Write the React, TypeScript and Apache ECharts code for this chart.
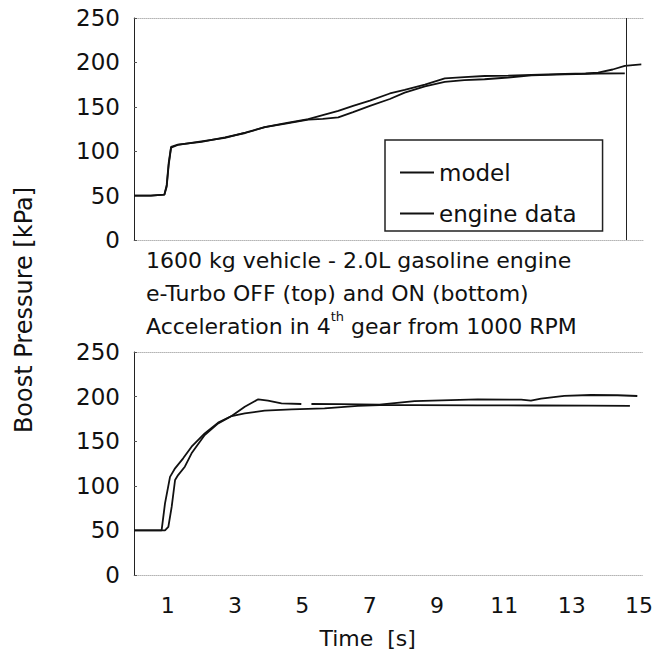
import React, { useEffect, useRef } from "react";
import * as echarts from "echarts";

// ---------- data ----------
// Top panel: e-Turbo OFF
const topModelTime = [0, 0.5, 0.9, 0.97, 1.03, 1.1, 1.3, 2.0, 2.7, 3.3, 3.88, 4.5, 5.17, 5.6, 6.06, 6.5, 7.0, 7.59, 8.03, 8.63, 9.22, 9.8, 10.4, 11.1, 11.79, 12.78, 13.77, 14.56];
const topModelValue = [50, 50, 51, 60, 85, 104, 107, 111, 115, 121, 127, 131, 135.5, 136.5, 138, 144, 151, 158.8, 166, 173, 178, 180, 181, 183, 185.5, 186.5, 187.5, 187.7];
const topEngineTime = [0, 0.5, 0.9, 0.97, 1.03, 1.1, 1.3, 2.0, 2.7, 3.3, 3.88, 4.5, 5.17, 5.6, 6.06, 6.5, 7.0, 7.59, 8.03, 8.63, 9.22, 9.8, 10.4, 11.1, 11.79, 12.78, 13.4, 13.77, 14.2, 14.56, 14.8, 15.05];
const topEngineValue = [50, 50, 51, 62, 87, 105, 107.5, 110.5, 115.5, 120.5, 127, 131.5, 136, 140.5, 145.3, 151, 157, 165, 169, 175, 182, 183.5, 184.7, 185, 186, 187, 187.5, 188.5, 192, 196, 197, 197.8];
const topBoundaryTime = 14.61;

// Bottom panel: e-Turbo ON
const bottomModelTime = [0, 0.5, 0.82, 0.92, 1.07, 1.22, 1.46, 1.71, 2.1, 2.5, 2.9, 3.29, 3.88, 4.68, 5.66, 6.65, 7.29, 8.33, 10.2, 12.0, 13.5, 14.73];
const bottomModelValue = [50, 50, 50, 80, 110, 119.6, 130.8, 143.8, 158.8, 170.8, 178.2, 181.3, 184.2, 185.7, 186.8, 189.5, 190.5, 190.5, 190.2, 190, 189.8, 189.6];
const bottomEngineTime = [0, 0.5, 0.92, 1.02, 1.12, 1.22, 1.31, 1.51, 1.71, 2.1, 2.5, 2.9, 3.29, 3.69, 3.98, 4.38, 4.97, 5.12, 5.27, 6.1, 7.29, 8.33, 10.21, 11.5, 11.79, 12.09, 12.78, 13.57, 14.36, 14.95];
const bottomEngineValue = [50, 50, 50, 54, 76.6, 106.5, 112, 121.4, 136.4, 157, 170, 178.2, 188.7, 197, 195.4, 192.5, 191.7, null, 191.7, 191.5, 191, 195, 197, 196.5, 195.4, 197.8, 200.7, 201.8, 201.5, 200.7];

const yTicks = [0, 50, 100, 150, 200, 250];
const xLabelTicks = [1, 3, 5, 7, 9, 11, 13, 15];

const titleLines = [
  "1600 kg vehicle - 2.0L gasoline engine",
  "e-Turbo OFF (top) and ON (bottom)",
  "Acceleration in 4{sup|th} gear from 1000 RPM",
];

const FONT = "DejaVu Sans";
const INK = "#111";

const zip = (t: number[], v: (number | null)[]) => t.map((x, i) => [x, v[i]]);

export default function App() {
  const ref = useRef<HTMLDivElement>(null);
  useEffect(() => {
    if (!ref.current) return;
    const chart = echarts.init(ref.current, undefined, { renderer: "svg" });
    const xMin = 0;
    const xMax = 15.1;
    const dotted = { show: true, lineStyle: { color: "#b5b5b5", type: "dotted" as const, width: 1 } };
    const yAxisBase = (gridIndex: number) => ({
      type: "value" as const,
      gridIndex,
      min: yTicks[0],
      max: yTicks[yTicks.length - 1],
      interval: 50,
      axisLine: { show: true, lineStyle: { color: "#222", width: 1 } },
      axisTick: { show: true, inside: true, length: 3, lineStyle: { color: "#555" } },
      splitLine: { show: false },
      axisLabel: { fontSize: 23, color: INK, fontFamily: FONT, margin: 14 },
    });
    const lineSeries = (name: string, data: any[], xAxisIndex: number, yAxisIndex: number, extra: any = {}) => ({
      type: "line" as const,
      name,
      data,
      xAxisIndex,
      yAxisIndex,
      symbol: "none",
      showSymbol: false,
      connectNulls: false,
      lineStyle: { color: "#111", width: 1.8 },
      itemStyle: { color: "#111" },
      ...extra,
    });
    chart.setOption({
      animation: false,
      backgroundColor: "#fff",
      textStyle: { fontFamily: FONT },
      title: {
        text: titleLines.join("\n"),
        left: 141,
        top: 239,
        textStyle: {
          fontSize: 22,
          lineHeight: 33,
          fontWeight: "normal",
          color: INK,
          fontFamily: FONT,
          rich: {
            sup: { fontSize: 13, verticalAlign: "top", lineHeight: 18, color: INK, fontFamily: FONT },
          },
        },
      },
      legend: {
        data: [
          { name: "model", icon: "rect" },
          { name: "engine data", icon: "rect" },
        ],
        orient: "vertical",
        left: 385,
        top: 140,
        padding: [21, 26, 6, 15],
        itemGap: 18,
        itemWidth: 34,
        itemHeight: 2,
        borderColor: "#222",
        borderWidth: 1.5,
        itemStyle: { color: "#111" },
        textStyle: { fontSize: 23, color: INK, fontFamily: FONT },
      },
      grid: [
        { left: 134, top: 18, width: 509, height: 222 },
        { left: 134, top: 352, width: 509, height: 223 },
      ],
      xAxis: [
        { type: "value", gridIndex: 0, min: xMin, max: xMax, interval: 1, axisLine: dotted, axisTick: { show: false }, axisLabel: { show: false }, splitLine: { show: false } },
        { type: "value", gridIndex: 0, position: "top", min: xMin, max: xMax, interval: 1, axisLine: dotted, axisTick: { show: false }, axisLabel: { show: false }, splitLine: { show: false } },
        {
          type: "value", gridIndex: 1, min: xMin, max: xMax, interval: 1,
          axisLine: dotted, axisTick: { show: false }, splitLine: { show: false },
          axisLabel: {
            fontSize: 22, color: INK, fontFamily: FONT, margin: 19, showMaxLabel: false,
            formatter: (v: number) => (xLabelTicks.includes(v) ? String(v) : ""),
          },
          name: "Time  [s]",
          nameLocation: "middle",
          nameGap: 52,
          nameTextStyle: { fontSize: 22, color: INK, fontFamily: FONT, padding: [0, 41, 0, 0] },
        },
        { type: "value", gridIndex: 1, position: "top", min: xMin, max: xMax, interval: 1, axisLine: dotted, axisTick: { show: false }, axisLabel: { show: false }, splitLine: { show: false } },
      ],
      yAxis: [yAxisBase(0), yAxisBase(1)],
      graphic: [
        {
          type: "text",
          x: 24,
          y: 310,
          rotation: Math.PI / 2,
          style: {
            text: "Boost Pressure [kPa]",
            fontSize: 24,
            fontFamily: FONT,
            fill: INK,
            textAlign: "center",
            textVerticalAlign: "middle",
            align: "center",
            verticalAlign: "middle",
          },
        },
      ],
      series: [
        lineSeries("model", zip(topModelTime, topModelValue), 0, 0),
        lineSeries("engine data", zip(topEngineTime, topEngineValue), 0, 0, {
          markLine: {
            silent: true,
            symbol: ["none", "none"],
            label: { show: false },
            lineStyle: { color: "#222", type: "solid", width: 1 },
            data: [{ xAxis: topBoundaryTime }],
          },
        }),
        lineSeries("model", zip(bottomModelTime, bottomModelValue), 2, 1),
        lineSeries("engine data", zip(bottomEngineTime, bottomEngineValue), 2, 1),
      ],
    });
    return () => chart.dispose();
  }, []);
  return <div ref={ref} style={{ position: "fixed", left: 0, top: 0, width: 656, height: 660 }} />;
}
